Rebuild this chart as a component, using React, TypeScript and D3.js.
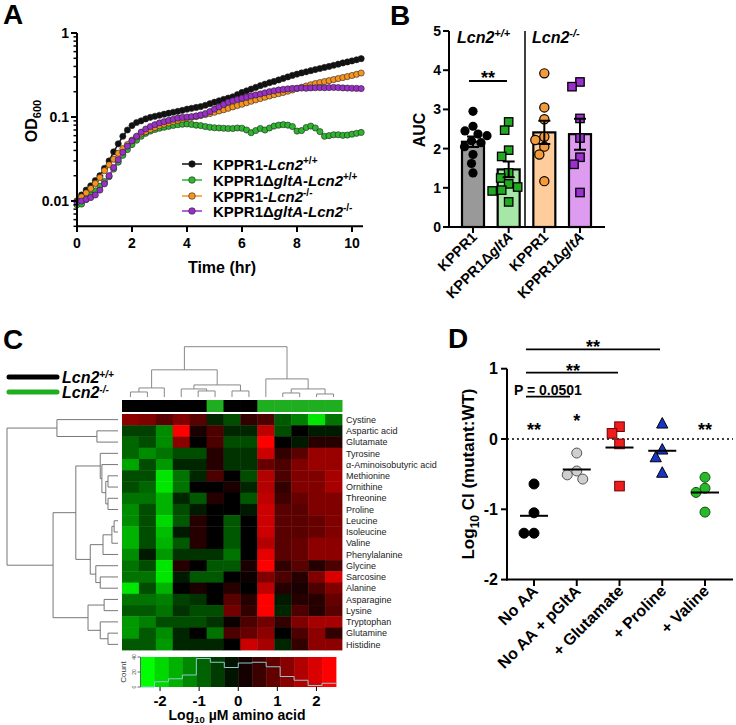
import React from "react";
import * as d3 from "d3";

const FONT = "'Liberation Sans', Arial, Helvetica, sans-serif";

// ---------------- Panel A: growth curves ----------------
const sampleMinutes = [0,10,20,30,40,50,60,70,80,90,100,110,120,130,140,150,160,170,180,190,200,210,220,230,240,250,260,270,280,290,300,310,320,330,340,350,360,370,380,390,400,410,420,430,440,450,460,470,480,490,500,510,520,530,540,550,560,570,580,590,600,610,620];
const odWildtype = [0.0100,0.0118,0.0135,0.0152,0.0175,0.0200,0.0245,0.0300,0.0385,0.0480,0.0590,0.0700,0.0790,0.0860,0.0900,0.0950,0.0990,0.1020,0.1050,0.1080,0.1110,0.1140,0.1170,0.1200,0.1240,0.1270,0.1300,0.1330,0.1380,0.1440,0.1500,0.1560,0.1620,0.1680,0.1740,0.1850,0.1960,0.2050,0.2150,0.2250,0.2360,0.2460,0.2560,0.2650,0.2760,0.2880,0.3000,0.3130,0.3240,0.3350,0.3450,0.3560,0.3670,0.3780,0.3890,0.4000,0.4130,0.4260,0.4400,0.4520,0.4650,0.4800,0.4950];
const odGltaWildtype = [0.0090,0.0092,0.0104,0.0118,0.0132,0.0150,0.0170,0.0195,0.0240,0.0290,0.0350,0.0410,0.0470,0.0530,0.0590,0.0640,0.0680,0.0710,0.0735,0.0755,0.0775,0.0795,0.0810,0.0820,0.0825,0.0815,0.0800,0.0790,0.0770,0.0755,0.0745,0.0740,0.0735,0.0730,0.0730,0.0740,0.0735,0.0700,0.0650,0.0690,0.0730,0.0700,0.0740,0.0780,0.0800,0.0810,0.0800,0.0770,0.0680,0.0690,0.0750,0.0780,0.0740,0.0670,0.0590,0.0600,0.0615,0.0615,0.0605,0.0610,0.0625,0.0640,0.0655];
const odKnockout = [0.0100,0.0112,0.0125,0.0141,0.0162,0.0190,0.0230,0.0270,0.0315,0.0370,0.0420,0.0470,0.0530,0.0580,0.0630,0.0670,0.0710,0.0750,0.0790,0.0820,0.0850,0.0880,0.0910,0.0940,0.0970,0.0990,0.1010,0.1040,0.1070,0.1100,0.1140,0.1180,0.1220,0.1270,0.1320,0.1370,0.1420,0.1480,0.1540,0.1600,0.1660,0.1720,0.1780,0.1840,0.1900,0.1960,0.2030,0.2100,0.2180,0.2260,0.2340,0.2420,0.2500,0.2570,0.2640,0.2710,0.2790,0.2870,0.2950,0.3030,0.3120,0.3220,0.3340];
const odGltaKnockout = [0.0098,0.0100,0.0105,0.0110,0.0118,0.0135,0.0160,0.0200,0.0250,0.0310,0.0380,0.0450,0.0520,0.0590,0.0660,0.0720,0.0770,0.0810,0.0850,0.0880,0.0910,0.0940,0.0970,0.0990,0.1000,0.1010,0.1030,0.1060,0.1100,0.1160,0.1240,0.1320,0.1410,0.1500,0.1560,0.1620,0.1670,0.1720,0.1780,0.1830,0.1880,0.1940,0.2000,0.2050,0.2100,0.2130,0.2160,0.2190,0.2200,0.2210,0.2200,0.2220,0.2230,0.2240,0.2230,0.2240,0.2250,0.2240,0.2220,0.2210,0.2200,0.2190,0.2180];
const odMajorTicks = [0.01, 0.1, 1];
const odMinorTicks = [0.005,0.006,0.007,0.008,0.009,0.02,0.03,0.04,0.05,0.06,0.07,0.08,0.09,0.2,0.3,0.4,0.5,0.6,0.7,0.8,0.9];
const timeTicks = [0, 2, 4, 6, 8, 10];

// ---------------- Panel B: AUC ----------------
const aucGroups = ["KPPR1", "KPPR1ΔgltA", "KPPR1", "KPPR1ΔgltA"];
const aucWildtype = [2.95, 2.57, 2.45, 2.37, 2.33, 2.2, 2.15, 2.05, 1.85, 1.62, 1.38];
const aucGltaWildtype = [2.68, 2.47, 1.96, 1.8, 1.38, 1.25, 1.1, 1.02, 0.94, 0.92, 0.64];
const aucKnockout = [3.92, 3.05, 2.75, 2.3, 2.22, 2.05, 1.85, 1.17];
const aucGltaKnockout = [3.7, 3.58, 2.77, 2.27, 1.78, 1.6, 0.88];
const aucTicks = [0, 1, 2, 3, 4, 5];

// ---------------- Panel C: heatmap ----------------
const aminoAcids = ["Cystine","Aspartic acid","Glutamate","Tyrosine","α-Aminoisobutyric acid","Methionine","Ornithine","Threonine","Proline","Leucine","Isoleucine","Valine","Phenylalanine","Glycine","Sarcosine","Alanine","Asparagine","Lysine","Tryptophan","Glutamine","Histidine"];
const heatValues = [
  [0.55,0.5,0.35,0.5,0.35,-0.15,-0.3,0.2,0.3,-0.35,-0.5,-0.9,-0.45],
  [-0.25,-0.25,-0.55,1.0,0.1,0.3,-0.15,-0.15,0.75,-0.3,0,-0.1,-0.1],
  [-0.4,-0.3,-0.55,0.55,0,0.3,-0.3,-0.3,1.0,0,-0.1,0.15,0.15],
  [-0.4,-0.55,-0.45,-0.3,-0.3,0.15,-0.2,-0.2,0.8,0.2,0.35,0.6,0.6],
  [-0.65,-0.3,-0.6,-0.15,-0.15,0.15,-0.2,-0.2,0.4,0.3,0.5,0.6,0.6],
  [-0.3,-0.3,-0.9,-0.45,-0.15,0.3,0,-0.3,0.7,0.3,0.5,0.5,0.65],
  [-0.3,-0.4,-0.9,-0.45,0,0,0.1,-0.15,0.7,0.2,0.5,0.5,0.65],
  [-0.45,-0.45,-0.7,-0.15,-0.35,0.15,0,-0.35,0.75,0.25,0.4,0.5,0.5],
  [-0.55,-0.3,-0.7,-0.3,-0.1,0,0,-0.1,0.8,0.35,0.35,0.5,0.5],
  [-0.55,-0.3,-0.85,-0.35,0.15,0,-0.35,0,0.8,0.35,0.35,0.4,0.5],
  [-0.7,-0.3,-0.75,-0.1,0.15,0,-0.35,0,0.8,0.35,0.35,0.4,0.5],
  [-0.7,-0.3,-0.7,-0.35,0.15,0,-0.35,0,0.7,0.35,0.4,0.55,0.55],
  [-0.55,-0.1,-0.6,-0.2,-0.2,-0.2,-0.45,0,0.9,0.35,0.4,0.55,0.55],
  [-0.45,-0.3,-0.9,0.15,0,-0.35,-0.35,0.1,1.0,0.2,0.35,0.15,0.3],
  [-0.45,-0.45,-0.9,-0.1,-0.35,-0.35,0,0.05,0.5,0.3,0.15,0.5,0.85],
  [-0.9,-0.3,-0.7,0,0.1,0,0.15,0,0.75,0.15,0.1,0.3,0.5],
  [-0.45,-0.45,-0.5,-0.25,-0.2,0,0.35,0.15,1.0,-0.1,0.15,0.15,0.4],
  [-0.35,-0.35,-0.45,-0.2,-0.3,-0.3,0.45,0.2,1.0,-0.15,0.3,0.15,0.35],
  [-0.6,-0.5,-0.3,-0.3,-0.3,-0.2,0.05,0.3,0.45,0.2,0.5,0.65,0.65],
  [-0.6,-0.35,-0.55,-0.15,0,-0.45,0.3,0.4,0.55,0,0.3,0.55,0.2],
  [-0.35,-0.35,-0.6,-0.15,-0.15,-0.15,0,0.8,0.65,-0.15,0.2,0.55,0.55],
];
const sampleGenotype = ["wt","wt","wt","wt","wt","ko","wt","wt","ko","ko","ko","ko","ko"];
type Tree = number | [number, Tree, Tree];
const rowTree: Tree = [10,
  [5.5, 0, [1.9, 1, 2]],
  [5.85,
    [3.8,
      [1.6, 3, [1.45, 4, [1.1, [0.9, 5, 6], [0.9, 7, 8]]]],
      [2.5, [1.35, [0.55, [0.35, 9, 10], 11], 12], [2.0, 13, [1.6, 14, 15]]]],
    [2.7, [1.25, 16, 17], [1.6, 18, [0.9, 19, 20]]]]];
const colTree: Tree = [50,
  [27, [9, [5, 0, 1], 2], [12, [8, 3, [6, 4, 5]], [6, 6, 7]]],
  [18, 8, [8, [4, 9, 10], [3, 11, 12]]]];
const keyTicks = [-2, -1, 0, 1, 2];
const keyCounts = [0, 7, 11, 16, 38, 33, 26, 32, 33, 27, 14, 9, 2, 5];
const countTicks = [0, 20, 40];

// ---------------- Panel D: competitive index ----------------
const ciCategories = ["No AA", "No AA + pGltA", "+ Glutamate", "+ Proline", "+ Valine"];
const ciNoAA = [-0.64, -1.05, -1.34, -1.34];
const ciPGltA = [-0.2, -0.455, -0.51, -0.57];
const ciGlutamate = [0.175, 0.08, -0.07, -0.67];
const ciProline = [0.22, -0.15, -0.26, -0.48];
const ciValine = [-0.545, -0.7, -0.76, -1.04];
const ciTicks = [1, 0, -1, -2];

// ---------------- helpers ----------------
function swarm(vals: number[], y: (v: number) => number, r: number): number[] {
  const placed: { x: number; y: number }[] = [];
  return vals.map((v) => {
    const py = y(v);
    let best = 0;
    for (let k = 0; k < 400; k++) {
      const c = k === 0 ? 0 : (k % 2 === 1 ? -1 : 1) * Math.ceil(k / 2) * 0.5;
      if (placed.every((p) => Math.hypot(p.x - c, p.y - py) >= 2 * r - 0.5)) { best = c; break; }
    }
    placed.push({ x: best, y: py });
    return best;
  });
}

function dendro(t: Tree, leaf: (i: number) => number, hp: (h: number) => number, horiz: boolean, segs: string[]): { pos: number; h: number } {
  if (typeof t === "number") return { pos: leaf(t), h: 0 };
  const [h, a, b] = t;
  const A = dendro(a, leaf, hp, horiz, segs);
  const B = dendro(b, leaf, hp, horiz, segs);
  const H = hp(h);
  if (horiz) {
    segs.push(`M${hp(A.h)},${A.pos}H${H}V${B.pos}H${hp(B.h)}`);
  } else {
    segs.push(`M${A.pos},${hp(A.h)}V${H}H${B.pos}V${hp(B.h)}`);
  }
  return { pos: (A.pos + B.pos) / 2, h };
}

const Sup = ({ t, size = 10, dy = -6 }: { t: string; size?: number; dy?: number }) => (
  <tspan dy={dy} fontSize={size}>{t}</tspan>
);

// ---------------- Panel A ----------------
function PanelA() {
  const x = d3.scaleLinear().domain([0, 10.4]).range([77, 363]);
  const y = d3.scaleLog().domain([0.005, 1]).range([226.3, 33]);
  const series = [
    { vals: odWildtype, fill: "#111111", label: ["KPPR1-", "", "+/+"] },
    { vals: odGltaWildtype, fill: "#2fb52f", label: ["KPPR1Δ", "gltA", "+/+"] },
    { vals: odKnockout, fill: "#f7941d", label: ["KPPR1-", "", "-/-"] },
    { vals: odGltaKnockout, fill: "#9a2fc8", label: ["KPPR1Δ", "gltA", "-/-"] },
  ];
  const line = d3.line<number>().x((_, i) => x(sampleMinutes[i] / 60)).y((v) => y(v));
  const legendY = [164, 180, 196, 211];
  return (
    <g>
      <text x={3} y={24} fontSize={28} fontWeight="bold">A</text>
      {series.map((s, si) => (
        <g key={si}>
          <path d={line(s.vals) || ""} fill="none" stroke={s.fill} strokeWidth={1.5} />
          {s.vals.map((v, i) => (
            <circle key={i} cx={x(sampleMinutes[i] / 60)} cy={y(v)} r={3.1} fill={s.fill} stroke="#222" strokeWidth={0.6} />
          ))}
        </g>
      ))}
      <line x1={77} x2={77} y1={33} y2={226.3} stroke="#000" strokeWidth={2} />
      <line x1={76} x2={363} y1={226.3} y2={226.3} stroke="#000" strokeWidth={2} />
      {odMajorTicks.map((t) => (
        <g key={t}>
          <line x1={71} x2={77} y1={y(t)} y2={y(t)} stroke="#000" strokeWidth={2} />
          <text x={69} y={y(t) + 5} textAnchor="end" fontSize={14} fontWeight="bold">{t}</text>
        </g>
      ))}
      {odMinorTicks.map((t) => (
        <line key={t} x1={73.5} x2={77} y1={y(t)} y2={y(t)} stroke="#000" strokeWidth={1.5} />
      ))}
      {timeTicks.map((t) => (
        <g key={t}>
          <line x1={x(t)} x2={x(t)} y1={226.3} y2={232} stroke="#000" strokeWidth={2} />
          <text x={x(t)} y={248} textAnchor="middle" fontSize={14} fontWeight="bold">{t}</text>
        </g>
      ))}
      <text x={222} y={272.5} textAnchor="middle" fontSize={16} fontWeight="bold">Time (hr)</text>
      <text transform="translate(37,121) rotate(-90)" textAnchor="middle" fontSize={16} fontWeight="bold">
        OD<tspan dy={4} fontSize={11}>600</tspan>
      </text>
      {series.map((s, si) => (
        <g key={si}>
          <line x1={182} x2={202} y1={legendY[si]} y2={legendY[si]} stroke={s.fill} strokeWidth={1.5} />
          <circle cx={192} cy={legendY[si]} r={3.3} fill={s.fill} stroke="#222" strokeWidth={0.6} />
          <text x={213} y={legendY[si] + 5.5} fontSize={15} fontWeight="bold">
            {s.label[0]}
            {s.label[1] ? <tspan fontStyle="italic">{s.label[1]}</tspan> : null}
            {s.label[1] ? "-" : null}
            <tspan fontStyle="italic">Lcn2</tspan>
            <Sup t={s.label[2]} size={10} dy={-6} />
          </text>
        </g>
      ))}
    </g>
  );
}

// ---------------- Panel B ----------------
function PanelB() {
  const y = d3.scaleLinear().domain([0, 5]).range([227, 31]);
  const x = d3.scalePoint<number>().domain([0, 1, 2, 3]).range([473, 580]);
  const groups = [
    { vals: aucWildtype, bar: "#999999", pt: "#000000", shape: "circle", stroke: "#000" },
    { vals: aucGltaWildtype, bar: "#a6e6a6", pt: "#22a822", shape: "square", stroke: "#000" },
    { vals: aucKnockout, bar: "#ffcc9c", pt: "#f59a38", shape: "circle", stroke: "#000" },
    { vals: aucGltaKnockout, bar: "#dd9cf0", pt: "#9b2fd0", shape: "square", stroke: "#000" },
  ];
  const bw = 22;
  return (
    <g>
      <text x={390} y={25} fontSize={28} fontWeight="bold">B</text>
      {groups.map((g, gi) => {
        const cx = x(gi)!;
        const m = d3.mean(g.vals)!;
        const sem = d3.deviation(g.vals)! / Math.sqrt(g.vals.length);
        const offs = swarm(g.vals, y, 4.8);
        return (
          <g key={gi}>
            <rect x={cx - bw / 2} y={y(m)} width={bw} height={y(0) - y(m)} fill={g.bar} stroke="#000" strokeWidth={2.2} />
            {g.vals.map((v, i) =>
              g.shape === "circle" ? (
                <circle key={i} cx={cx + offs[i]} cy={y(v)} r={4.6} fill={g.pt} stroke={g.stroke} strokeWidth={gi === 0 ? 0 : 1.2} />
              ) : (
                <rect key={i} x={cx + offs[i] - 4.2} y={y(v) - 4.2} width={8.4} height={8.4} fill={g.pt} stroke={g.stroke} strokeWidth={1.3} />
              )
            )}
            <path d={`M${cx},${y(m - sem)}V${y(m + sem)}M${cx - 6},${y(m + sem)}H${cx + 6}M${cx - 6},${y(m - sem)}H${cx + 6}`} stroke="#000" strokeWidth={2} fill="none" />
            <line x1={cx} x2={cx} y1={227} y2={233} stroke="#000" strokeWidth={2} />
            <text transform={`translate(${cx + 5},238) rotate(-45)`} textAnchor="end" fontSize={14.5} fontWeight="bold">
              {aucGroups[gi].startsWith("KPPR1Δ") ? (<>KPPR1Δ<tspan fontStyle="italic">gltA</tspan></>) : aucGroups[gi]}
            </text>
          </g>
        );
      })}
      <line x1={449} x2={449} y1={31} y2={228} stroke="#000" strokeWidth={2} />
      <line x1={448} x2={605} y1={227} y2={227} stroke="#000" strokeWidth={2} />
      <line x1={525} x2={525} y1={31} y2={227} stroke="#000" strokeWidth={1.5} />
      {aucTicks.map((t) => (
        <g key={t}>
          <line x1={443} x2={449} y1={y(t)} y2={y(t)} stroke="#000" strokeWidth={2} />
          <text x={441} y={y(t) + 5} textAnchor="end" fontSize={14} fontWeight="bold">{t}</text>
        </g>
      ))}
      <text transform="translate(425,130) rotate(-90)" textAnchor="middle" fontSize={16} fontWeight="bold">AUC</text>
      <text x={457} y={43} fontSize={16} fontWeight="bold" fontStyle="italic">Lcn2<Sup t="+/+" size={11} dy={-6} /></text>
      <text x={532} y={43} fontSize={16} fontWeight="bold" fontStyle="italic">Lcn2<Sup t="-/-" size={11} dy={-6} /></text>
      <line x1={469} x2={507} y1={81} y2={81} stroke="#000" strokeWidth={1.8} />
      <text x={488} y={84} textAnchor="middle" fontSize={18} fontWeight="bold">**</text>
    </g>
  );
}

// ---------------- Panel C ----------------
function PanelC() {
  const nCol = heatValues[0].length;
  const x = d3.scaleBand<number>().domain(d3.range(nCol)).range([122, 342]);
  const y = d3.scaleBand<number>().domain(d3.range(aminoAcids.length)).range([414, 650]);
  const color = d3.scaleLinear<string>().domain([-1, 0, 1]).range(["#00ff00", "#000000", "#ff0000"]).clamp(true);
  const rowSegs: string[] = [];
  dendro(rowTree, (i) => y(i)! + y.bandwidth() / 2, d3.scaleLinear().domain([0, 10]).range([118, 7]), true, rowSegs);
  const colSegs: string[] = [];
  dendro(colTree, (i) => x(i)! + x.bandwidth() / 2, d3.scaleLinear().domain([0, 50]).range([397, 346.7]), false, colSegs);
  const kx = d3.scaleLinear().domain([-2.5, 2.5]).range([140.5, 336]);
  const nBins = keyCounts.length;
  const binW = 5 / nBins;
  const ky = d3.scaleLinear().domain([0, 40]).range([687, 657]);
  const histPath = keyCounts.map((c, i) => `${i === 0 ? "M" : "L"}${kx(-2.5 + i * binW)},${ky(c)}H${kx(-2.5 + (i + 1) * binW)}`).join("");
  return (
    <g>
      <text x={3} y={349} fontSize={28} fontWeight="bold">C</text>
      <line x1={9} x2={57} y1={377} y2={377} stroke="#000" strokeWidth={5} strokeLinecap="round" />
      <line x1={9} x2={57} y1={392} y2={392} stroke="#1fae1f" strokeWidth={5} strokeLinecap="round" />
      <text x={62} y={382.5} fontSize={16} fontWeight="bold" fontStyle="italic">Lcn2<Sup t="+/+" size={10} dy={-5} /></text>
      <text x={62} y={397.5} fontSize={16} fontWeight="bold" fontStyle="italic">Lcn2<Sup t="-/-" size={10} dy={-5} /></text>
      {colSegs.map((d, i) => <path key={i} d={d} fill="none" stroke="#888" strokeWidth={1} />)}
      {rowSegs.map((d, i) => <path key={i} d={d} fill="none" stroke="#777" strokeWidth={1} />)}
      {sampleGenotype.map((g, j) => (
        <rect key={j} x={x(j)!} y={400} width={x.bandwidth() + 0.5} height={12} fill={g === "wt" ? "#000000" : "#1fae1f"} />
      ))}
      {heatValues.map((row, i) =>
        row.map((v, j) => (
          <rect key={`${i}-${j}`} x={x(j)!} y={y(i)!} width={x.bandwidth() + 0.4} height={y.bandwidth() + 0.4} fill={color(v)} />
        ))
      )}
      {aminoAcids.map((a, i) => (
        <text key={a} x={346} y={y(i)! + y.bandwidth() / 2 + 3.2} fontSize={9} fill="#222">{a}</text>
      ))}
      {d3.range(nBins).map((k) => {
        const c = -2.5 + (k + 0.5) * binW;
        return <rect key={k} x={kx(-2.5 + k * binW)} y={657} width={kx(binW) - kx(0) + 0.4} height={30} fill={color(c / 2.32)} />;
      })}
      <path d={histPath} fill="none" stroke="#8cc9cf" strokeWidth={1} />
      <line x1={140.5} x2={140.5} y1={657} y2={687} stroke="#444" strokeWidth={0.8} />
      {countTicks.map((t) => (
        <g key={t}>
          <line x1={137.5} x2={140.5} y1={ky(t)} y2={ky(t)} stroke="#444" strokeWidth={0.8} />
          <text transform={`translate(135.5,${ky(t)}) rotate(-90)`} textAnchor="middle" fontSize={5} fill="#444">{t}</text>
        </g>
      ))}
      <text transform="translate(126,672) rotate(-90)" textAnchor="middle" fontSize={8} fill="#333">Count</text>
      {keyTicks.map((t) => (
        <g key={t}>
          <line x1={kx(t)} x2={kx(t)} y1={687} y2={691} stroke="#000" strokeWidth={1} />
          <text x={kx(t)} y={706} textAnchor="middle" fontSize={15} fontWeight="bold">{t}</text>
        </g>
      ))}
      <text x={237} y={719.5} textAnchor="middle" fontSize={14} fontWeight="bold">
        Log<tspan dy={3} fontSize={9.5}>10</tspan><tspan dy={-3}> µM amino acid</tspan>
      </text>
    </g>
  );
}

// ---------------- Panel D ----------------
function PanelD() {
  const y = d3.scaleLinear().domain([-2, 1]).range([579.6, 368.7]);
  const x = d3.scalePoint<string>().domain(ciCategories).range([534, 705]);
  const sets = [
    { vals: ciNoAA, fill: "#000000", stroke: "#000", shape: "circle" },
    { vals: ciPGltA, fill: "#cfcfcf", stroke: "#555", shape: "circle" },
    { vals: ciGlutamate, fill: "#ee1c1c", stroke: "#6a0000", shape: "square" },
    { vals: ciProline, fill: "#1736c9", stroke: "#000", shape: "triangle" },
    { vals: ciValine, fill: "#29b829", stroke: "#135513", shape: "circle" },
  ];
  return (
    <g>
      <text x={448} y={348} fontSize={28} fontWeight="bold">D</text>
      <line x1={507} x2={733} y1={y(0)} y2={y(0)} stroke="#000" strokeWidth={1.6} strokeDasharray="2,3" />
      {sets.map((s, si) => {
        const cx = x(ciCategories[si])!;
        const offs = swarm(s.vals, y, 5.2);
        const m = d3.mean(s.vals)!;
        return (
          <g key={si}>
            {s.vals.map((v, i) => {
              const px = cx + offs[i];
              const py = y(v);
              if (s.shape === "circle") return <circle key={i} cx={px} cy={py} r={5} fill={s.fill} stroke={s.stroke} strokeWidth={1} />;
              if (s.shape === "square") return <rect key={i} x={px - 4.8} y={py - 4.8} width={9.6} height={9.6} fill={s.fill} stroke={s.stroke} strokeWidth={1} />;
              return <path key={i} d={`M${px},${py - 6}L${px + 5.6},${py + 4.5}L${px - 5.6},${py + 4.5}Z`} fill={s.fill} stroke={s.stroke} strokeWidth={1} />;
            })}
            <line x1={cx - 14} x2={cx + 14} y1={y(m)} y2={y(m)} stroke="#000" strokeWidth={2} />
            <line x1={cx} x2={cx} y1={580} y2={586} stroke="#000" strokeWidth={2} />
            <text transform={`translate(${cx + 5},592) rotate(-45)`} textAnchor="end" fontSize={16} fontWeight="bold">{ciCategories[si]}</text>
          </g>
        );
      })}
      <line x1={507} x2={507} y1={368.7} y2={580.6} stroke="#000" strokeWidth={2} />
      <line x1={506} x2={733} y1={579.6} y2={579.6} stroke="#000" strokeWidth={2} />
      {ciTicks.map((t) => (
        <g key={t}>
          <line x1={501} x2={507} y1={y(t)} y2={y(t)} stroke="#000" strokeWidth={2} />
          <text x={498} y={y(t) + 5.5} textAnchor="end" fontSize={16} fontWeight="bold">{t}</text>
        </g>
      ))}
      <text transform="translate(474,474) rotate(-90)" textAnchor="middle" fontSize={17} fontWeight="bold">
        Log<tspan dy={5} fontSize={12}>10</tspan><tspan dy={-5}> CI (mutant:WT)</tspan>
      </text>
      <line x1={526} x2={660} y1={349.3} y2={349.3} stroke="#000" strokeWidth={1.8} />
      <text x={593} y={353} textAnchor="middle" fontSize={18} fontWeight="bold">**</text>
      <line x1={526} x2={618} y1={372.7} y2={372.7} stroke="#000" strokeWidth={1.8} />
      <text x={573} y={376.5} textAnchor="middle" fontSize={18} fontWeight="bold">**</text>
      <line x1={526} x2={570} y1={396.7} y2={396.7} stroke="#000" strokeWidth={1.8} />
      <text x={514} y={394.5} fontSize={14} fontWeight="bold">P = 0.0501</text>
      <text x={x(ciCategories[0])!} y={436} textAnchor="middle" fontSize={18} fontWeight="bold">**</text>
      <text x={x(ciCategories[1])!} y={427} textAnchor="middle" fontSize={18} fontWeight="bold">*</text>
      <text x={x(ciCategories[4])!} y={436} textAnchor="middle" fontSize={18} fontWeight="bold">**</text>
    </g>
  );
}

export default function App() {
  return (
    <svg width={736} height={725} viewBox="0 0 736 725" style={{ position: "absolute", left: 0, top: 0, background: "#fff" }} fontFamily={FONT}>
      <rect width={736} height={725} fill="#fff" />
      <PanelA />
      <PanelB />
      <PanelC />
      <PanelD />
    </svg>
  );
}
